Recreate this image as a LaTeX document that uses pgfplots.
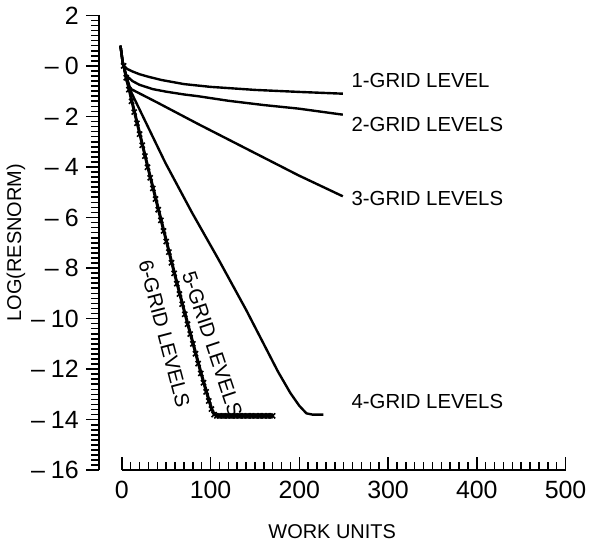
\documentclass[border=0pt]{standalone}
\usepackage{fontspec}
\setmainfont{Liberation Sans}
\usepackage{pgfplots}
\pgfplotsset{compat=1.18}

\begin{document}
\begin{tikzpicture}
\begin{axis}[
    scale only axis,
    width=234pt, height=228pt,
    xmin=-26, xmax=500, ymin=-16, ymax=2,
    axis lines=left,
    axis line style={-, line width=1.2pt},
    x axis line style={shorten <=11.6pt},
    clip=false,
    xtick={0,100,...,500},
    minor xtick={10,20,...,490},
    ytick={-16,-14,...,2},
    yticklabels={–\hspace{3pt}16,–\hspace{3pt}14,–\hspace{3pt}12,–\hspace{3pt}10,–\hspace{3pt}8,–\hspace{3pt}6,–\hspace{3pt}4,–\hspace{3pt}2,–\hspace{3pt}0,2},
    minor y tick num=9,
    xtick align=inside,
    ytick align=outside,
    major tick length=6.5pt,
    minor tick length=4pt,
    tick style={line width=0.8pt, black},
    /pgf/number format/assume math mode=true,
    ticklabel style={font=\fontsize{12.5}{14}\selectfont},
    xticklabel style={yshift=-2pt},
    xlabel={WORK UNITS},
    ylabel={LOG(RESNORM)},
    label style={font=\fontsize{9.3}{11}\selectfont},
    every axis x label/.style={at={(axis description cs:0.5,0)}, yshift=-31pt, anchor=center},
    every axis y label/.style={at={(axis description cs:0,0.5)}, xshift=-41.5pt, rotate=90, anchor=center},
    every axis plot/.append style={line width=1.2pt, black},
]
% 1 grid level
\addplot[no marks] coordinates {
  (-1.5,0.8) (1,0.15) (2.5,0.0) (6,-0.12) (12,-0.22) (20,-0.33) (30,-0.43)
  (45,-0.56) (70,-0.72) (100,-0.83) (150,-0.95) (200,-1.03) (249,-1.1)
};
% 2 grid levels
\addplot[no marks] coordinates {
  (-1.5,0.8) (1,0.15) (2,0) (4,-0.3) (6,-0.41) (12,-0.6) (20,-0.75) (35,-0.92)
  (50,-1.02) (70,-1.13) (86,-1.2) (120,-1.38) (160,-1.55) (199,-1.69) (249,-1.93)
};
% 3 grid levels
\addplot[no marks] coordinates {
  (-1.5,0.8) (1,0.15) (2,0) (5,-0.55) (8,-0.87) (15,-1.0) (40,-1.45) (86,-2.3)
  (150,-3.45) (199,-4.33) (249,-5.16)
};
% 4 grid levels
\addplot[no marks] coordinates {
  (-1.5,0.8) (1,0.15) (2,0) (6,-0.5) (11,-1.07) (30,-2.45) (49,-3.83) (79,-5.8)
  (109,-7.66) (140,-9.65) (176,-12.1) (190,-12.95) (200,-13.45) (208,-13.75)
  (215,-13.8) (227,-13.8)
};
% 5 grid levels
\addplot[no marks] coordinates {
  (-1.5,0.8) (1,0.1) (3,-0.1) (10,-1.15) (20,-2.6) (30,-4.05) (40,-5.45)
  (50,-6.85) (60,-8.25) (70,-9.6) (80,-10.9) (90,-12.2) (100,-13.4)
  (103,-13.7) (107,-13.82) (171,-13.82)
};
% 6 grid levels
\addplot[mark=x, mark size=1.8pt, mark options={line width=0.8pt}] coordinates {
  (2,0) (5,-0.47) (8,-0.94) (11,-1.4) (14,-1.83) (17,-2.27) (20,-2.7) (23,-3.14)
  (26,-3.57) (29,-4.01) (32,-4.43) (35,-4.85) (38,-5.27) (41,-5.69) (44,-6.11)
  (47,-6.53) (50,-6.95) (53,-7.37) (56,-7.79) (59,-8.21) (62,-8.62) (65,-9.03)
  (68,-9.43) (71,-9.83) (74,-10.22) (77,-10.61) (80,-11.0) (83,-11.39)
  (86,-11.78) (89,-12.17) (92,-12.54) (95,-12.9) (98,-13.26) (101,-13.58)
  (104,-13.8) (107,-13.85) (110,-13.85) (113,-13.85) (116,-13.85) (119,-13.85)
  (122,-13.85) (125,-13.85) (128,-13.85) (131,-13.85) (134,-13.85) (137,-13.85)
  (140,-13.85) (143,-13.85) (146,-13.85) (149,-13.85) (152,-13.85) (155,-13.85)
  (158,-13.85) (161,-13.85) (164,-13.85) (167,-13.85) (170,-13.85)
};
\begin{scope}[font=\fontsize{10.2}{12}\selectfont]
\node[anchor=west] at (axis cs:251,-0.57) {1-GRID LEVEL};
\node[anchor=west] at (axis cs:251,-2.32) {2-GRID LEVELS};
\node[anchor=west] at (axis cs:251,-5.26) {3-GRID LEVELS};
\node[anchor=west] at (axis cs:251,-13.3) {4-GRID LEVELS};
\node[rotate=-71.6] at (axis cs:102,-11.0) {5-GRID LEVELS};
\node[rotate=-75.3] at (axis cs:48,-10.6) {6-GRID LEVELS};
\end{scope}
\end{axis}
\end{tikzpicture}
\end{document}
